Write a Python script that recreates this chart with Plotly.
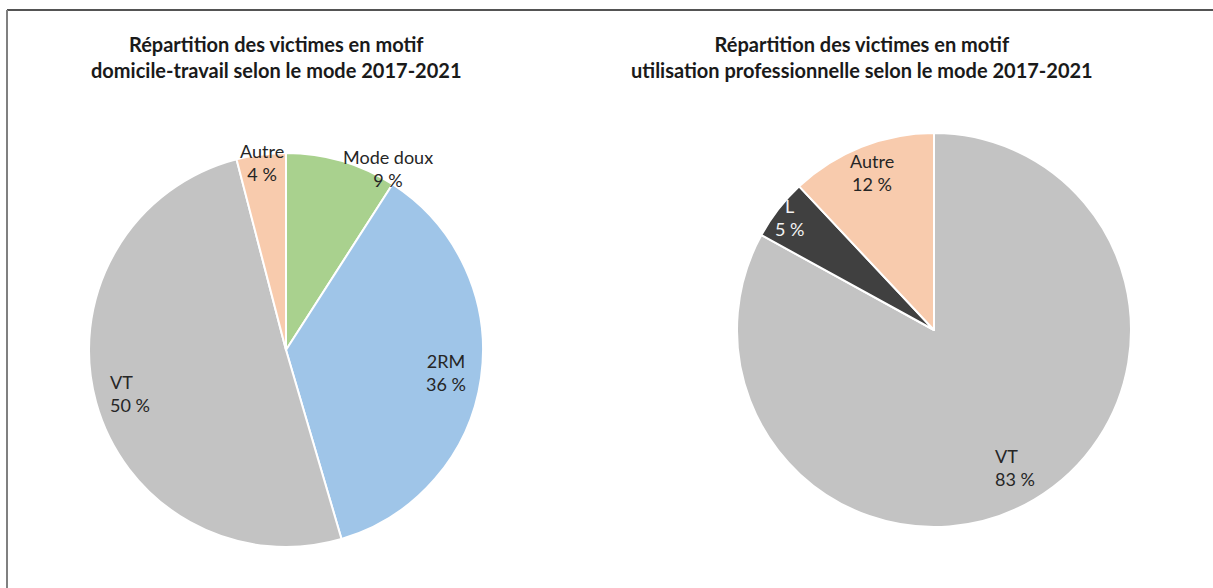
import math
import plotly.graph_objects as go

W, H = 1213, 588

# ---- data ----
labels1 = ["Mode doux", "2RM", "VT", "Autre"]
values1 = [9, 36, 50, 4]
pct1 = ["9 %", "36 %", "50 %", "4 %"]
colors1 = ["#A9D18E", "#9FC5E8", "#C3C3C3", "#F8CBAD"]
title1 = "Répartition des victimes en motif<br>domicile-travail selon le mode 2017-2021"

labels2 = ["VT", "L", "Autre"]
values2 = [83, 5, 12]
pct2 = ["83 %", "5 %", "12 %"]
colors2 = ["#C3C3C3", "#404040", "#F8CBAD"]
title2 = "Répartition des victimes en motif<br>utilisation professionnelle selon le mode 2017-2021"

# ---- layout / style ----
FONT = "Lato"
pie1 = dict(cx=286, cy=350, r=197)
pie2 = dict(cx=934, cy=330, r=197)
# label placement (radial factor, angle offset deg, text colour, align)
lab1 = [(1.06, 13, "#262626", "center"), (0.82, 0, "#262626", "center"),
        (0.82, 0, "#262626", "left"), (0.96, 0, "#262626", "center")]
lab2 = [(0.81, 0, "#262626", "left"), (0.93, 0, "#F2F2F2", "center"),
        (0.86, 0, "#262626", "center")]


def domain(p):
    return dict(x=[(p["cx"] - p["r"]) / W, (p["cx"] + p["r"]) / W],
                y=[1 - (p["cy"] + p["r"]) / H, 1 - (p["cy"] - p["r"]) / H])


fig = go.Figure()
for labels, values, colors, p in [(labels1, values1, colors1, pie1),
                                  (labels2, values2, colors2, pie2)]:
    fig.add_trace(go.Pie(labels=labels, values=values, sort=False,
                         direction="clockwise", rotation=0,
                         marker=dict(colors=colors, line=dict(color="white", width=2)),
                         textinfo="none", hoverinfo="label+percent",
                         domain=domain(p), showlegend=False))

annotations = []
for labels, values, pcts, p, styles in [(labels1, values1, pct1, pie1, lab1),
                                        (labels2, values2, pct2, pie2, lab2)]:
    tot = sum(values)
    cum = 0
    for lab, v, pc, (rf, off, col, al) in zip(labels, values, pcts, styles):
        mid = (cum + v / 2) / tot * 360 + off
        cum += v
        a = math.radians(mid)
        px = p["cx"] + rf * p["r"] * math.sin(a)
        py = p["cy"] - rf * p["r"] * math.cos(a)
        annotations.append(dict(x=px / W, y=1 - py / H, xref="paper", yref="paper",
                                xanchor="center", yanchor="middle",
                                text=f"{lab}<br>{pc}", showarrow=False, align=al,
                                font=dict(family=FONT, size=18, color=col)))

for t, cx in [(title1, 276), (title2, 862)]:
    annotations.append(dict(x=cx / W, y=1 - 57 / H, xref="paper", yref="paper",
                            xanchor="center", yanchor="middle",
                            text=t, showarrow=False, align="center",
                            font=dict(family=FONT, size=20, color="#1a1a1a", weight="bold")))

shapes = [
    dict(type="line", xref="paper", yref="paper", x0=7 / W, x1=1, y0=1 - 10 / H, y1=1 - 10 / H,
         line=dict(color="#1a1a1a", width=1.5)),
    dict(type="line", xref="paper", yref="paper", x0=7 / W, x1=7 / W, y0=0, y1=1 - 10 / H,
         line=dict(color="#808080", width=2)),
]

fig.update_layout(width=W, height=H, margin=dict(l=0, r=0, t=0, b=0),
                  paper_bgcolor="white", plot_bgcolor="white",
                  annotations=annotations, shapes=shapes)

fig.write_html("out.html", config={"displayModeBar": False},
               post_script="document.body.style.margin='0px';")
